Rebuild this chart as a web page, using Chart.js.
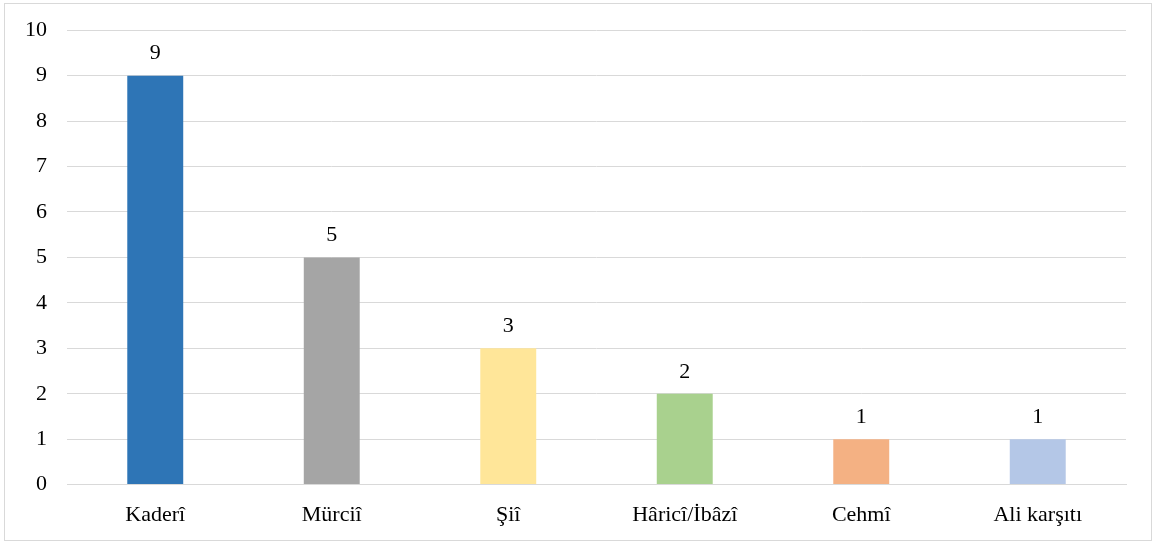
<!DOCTYPE html>
<html>
<head>
<meta charset="utf-8">
<script src="https://cdn.jsdelivr.net/npm/chart.js@4"></script>
<style>
  html, body { margin: 0; padding: 0; background: #fff; }
  #box {
    position: absolute; left: 4px; top: 3px;
    width: 1146px; height: 536px;
    border: 1px solid #d9d9d9;
    overflow: hidden;
  }
  #zone {
    position: absolute; left: 0; top: -7px;
    width: 1146px; height: 543px;
  }
</style>
</head>
<body>
<div id="box"><div id="zone"><canvas id="graph"></canvas></div></div>
<script>
// donnees du graphe
var categories = ["Kaderî", "Mürciî", "Şiî", "Hâricî/İbâzî", "Cehmî", "Ali karşıtı"];
var valeurs = [9, 5, 3, 2, 1, 1];
var couleurs = ["#2E75B6", "#A5A5A5", "#FFE699", "#A9D18E", "#F4B183", "#B4C7E7"];
var yTicks = [0, 1, 2, 3, 4, 5, 6, 7, 8, 9, 10];

var police = "'Liberation Serif', 'Times New Roman', serif";

// petites etiquettes au dessus des barres
var etiquettes = {
  id: "etiquettes",
  afterDatasetsDraw: function (chart) {
    var ctx = chart.ctx;
    var meta = chart.getDatasetMeta(0);
    ctx.save();
    ctx.font = "22px " + police;
    ctx.fillStyle = "#000";
    ctx.textAlign = "center";
    ctx.textBaseline = "bottom";
    meta.data.forEach(function (bar, i) {
      ctx.fillText(String(valeurs[i]), bar.x, bar.y - 11);
    });
    ctx.restore();
  }
};

const ctx = document.getElementById("graph");
const myChart = new Chart(ctx, {
  type: "bar",
  data: {
    labels: categories,
    datasets: [
      {
        data: valeurs,
        backgroundColor: couleurs,
        borderWidth: 0,
        barPercentage: 0.317,
        categoryPercentage: 1,
      },
    ],
  },
  options: {
    responsive: true,
    maintainAspectRatio: false,
    animation: false,
    layout: { padding: { left: 0, right: 25, top: 5, bottom: -5 } },
    plugins: {
      legend: { display: false },
      tooltip: { enabled: false },
    },
    scales: {
      x: {
        grid: { display: false, drawTicks: false },
        border: { display: true, color: "#d9d9d9", width: 1 },
        ticks: { color: "#000", font: { family: police, size: 22 }, padding: 17 },
      },
      y: {
        min: 0,
        max: 10,
        afterBuildTicks: function (axis) {
          axis.ticks = yTicks.map(function (v) { return { value: v }; });
        },
        grid: { color: "#d9d9d9", drawTicks: false },
        border: { display: false },
        ticks: { color: "#000", font: { family: police, size: 22 }, padding: 20 },
      },
    },
  },
  plugins: [etiquettes],
});
</script>
</body>
</html>
